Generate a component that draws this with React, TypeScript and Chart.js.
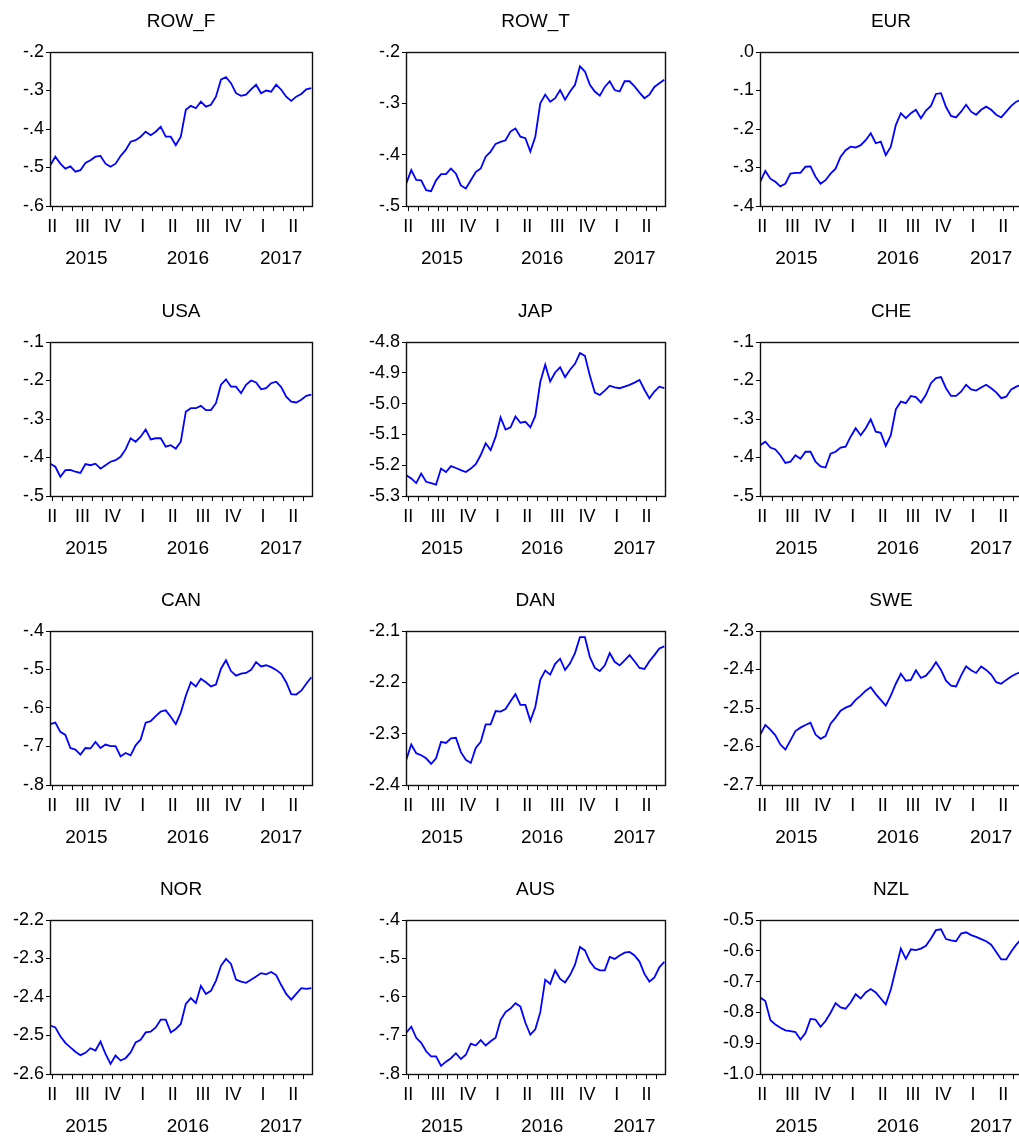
import React, { useEffect, useRef } from 'react';
import { Chart, registerables } from 'chart.js';

Chart.register(...registerables);

// ---- Time axis (months since 1 Jan 2015) ----
const MONTHS = [4.3, 4.8, 5.3, 5.8, 6.3, 6.8, 7.3, 7.8, 8.3, 8.8, 9.3, 9.8, 10.3, 10.8, 11.3, 11.8, 12.3, 12.8, 13.3, 13.8, 14.3, 14.8, 15.3, 15.8, 16.3, 16.8, 17.3, 17.8, 18.3, 18.8, 19.3, 19.8, 20.3, 20.8, 21.3, 21.8, 22.3, 22.8, 23.3, 23.8, 24.3, 24.8, 25.3, 25.8, 26.3, 26.8, 27.3, 27.8, 28.3, 28.8, 29.3, 29.8, 30.3];
const MONTH_TICKS = [4.5, 5.5, 6.5, 7.5, 8.5, 9.5, 10.5, 11.5, 12.5, 13.5, 14.5, 15.5, 16.5, 17.5, 18.5, 19.5, 20.5, 21.5, 22.5, 23.5, 24.5, 25.5, 26.5, 27.5, 28.5, 29.5];
const QUARTER_POS = [4.5, 7.5, 10.5, 13.5, 16.5, 19.5, 22.5, 25.5, 28.5];
const QUARTER_LABELS = ['II', 'III', 'IV', 'I', 'II', 'III', 'IV', 'I', 'II'];
const YEAR_POS = [7.9, 18.0, 27.3];
const YEAR_LABELS = ['2015', '2016', '2017'];
const X_MIN = 4.27;
const X_MAX = 30.37;

// ---- Series ----
const ROW_F = [-0.494, -0.472, -0.490, -0.503, -0.497, -0.511, -0.507, -0.488, -0.481, -0.472,
  -0.470, -0.490, -0.498, -0.490, -0.470, -0.455, -0.433, -0.429, -0.420, -0.407,
  -0.416, -0.407, -0.394, -0.420, -0.420, -0.442, -0.420, -0.350, -0.340, -0.346,
  -0.329, -0.342, -0.337, -0.316, -0.272, -0.265, -0.281, -0.307, -0.314, -0.311,
  -0.297, -0.285, -0.307, -0.300, -0.303, -0.285, -0.298, -0.316, -0.327, -0.316,
  -0.309, -0.297, -0.294];
const ROW_T = [-0.456, -0.430, -0.449, -0.450, -0.469, -0.471, -0.450, -0.438, -0.438, -0.427,
  -0.437, -0.460, -0.466, -0.450, -0.434, -0.427, -0.404, -0.394, -0.379, -0.375,
  -0.372, -0.355, -0.349, -0.365, -0.368, -0.394, -0.365, -0.300, -0.283, -0.297,
  -0.290, -0.274, -0.293, -0.277, -0.264, -0.228, -0.238, -0.264, -0.277, -0.285,
  -0.268, -0.257, -0.274, -0.277, -0.257, -0.257, -0.267, -0.279, -0.290, -0.283,
  -0.268, -0.261, -0.254];
const EUR = [-0.337, -0.309, -0.329, -0.337, -0.349, -0.342, -0.316, -0.314, -0.314, -0.298,
  -0.297, -0.324, -0.342, -0.333, -0.316, -0.303, -0.272, -0.255, -0.246, -0.248,
  -0.242, -0.229, -0.211, -0.237, -0.233, -0.268, -0.246, -0.190, -0.159, -0.172,
  -0.159, -0.150, -0.172, -0.152, -0.140, -0.109, -0.107, -0.143, -0.166, -0.170,
  -0.155, -0.137, -0.155, -0.163, -0.150, -0.142, -0.150, -0.163, -0.170, -0.155,
  -0.140, -0.129, -0.124];
const USA = [-0.416, -0.424, -0.450, -0.433, -0.432, -0.437, -0.440, -0.417, -0.420, -0.416,
  -0.429, -0.420, -0.411, -0.407, -0.398, -0.379, -0.350, -0.359, -0.346, -0.327,
  -0.353, -0.350, -0.350, -0.372, -0.368, -0.377, -0.359, -0.281, -0.272, -0.272,
  -0.266, -0.277, -0.277, -0.259, -0.211, -0.197, -0.216, -0.216, -0.233, -0.211,
  -0.200, -0.205, -0.223, -0.220, -0.207, -0.203, -0.217, -0.242, -0.255, -0.257,
  -0.250, -0.240, -0.237];
const JAP = [-5.233, -5.243, -5.258, -5.227, -5.254, -5.258, -5.263, -5.211, -5.222, -5.203,
  -5.209, -5.216, -5.222, -5.211, -5.197, -5.167, -5.129, -5.151, -5.108, -5.045,
  -5.084, -5.077, -5.042, -5.062, -5.059, -5.077, -5.040, -4.930, -4.874, -4.928,
  -4.899, -4.882, -4.914, -4.890, -4.871, -4.836, -4.845, -4.910, -4.964, -4.972,
  -4.958, -4.942, -4.947, -4.950, -4.945, -4.939, -4.932, -4.923, -4.955, -4.983,
  -4.961, -4.945, -4.950];
const CHE = [-0.368, -0.359, -0.374, -0.379, -0.394, -0.414, -0.411, -0.394, -0.403, -0.385,
  -0.385, -0.411, -0.423, -0.426, -0.390, -0.385, -0.374, -0.372, -0.346, -0.324,
  -0.342, -0.324, -0.301, -0.333, -0.336, -0.370, -0.342, -0.275, -0.255, -0.259,
  -0.240, -0.243, -0.257, -0.237, -0.207, -0.194, -0.191, -0.220, -0.240, -0.240,
  -0.229, -0.211, -0.223, -0.226, -0.218, -0.211, -0.220, -0.231, -0.246, -0.242,
  -0.223, -0.216, -0.211];
const CAN = [-0.642, -0.638, -0.662, -0.670, -0.704, -0.708, -0.721, -0.704, -0.705, -0.688,
  -0.704, -0.695, -0.699, -0.699, -0.726, -0.717, -0.723, -0.697, -0.682, -0.638,
  -0.634, -0.621, -0.609, -0.606, -0.623, -0.642, -0.612, -0.568, -0.533, -0.544,
  -0.524, -0.533, -0.544, -0.539, -0.498, -0.476, -0.504, -0.516, -0.511, -0.509,
  -0.501, -0.481, -0.492, -0.489, -0.494, -0.501, -0.511, -0.533, -0.564, -0.565,
  -0.555, -0.537, -0.520];
const DAN = [-2.351, -2.321, -2.338, -2.342, -2.348, -2.359, -2.348, -2.316, -2.318, -2.309,
  -2.308, -2.336, -2.351, -2.357, -2.328, -2.316, -2.282, -2.282, -2.256, -2.257,
  -2.252, -2.237, -2.223, -2.244, -2.244, -2.275, -2.248, -2.195, -2.177, -2.185,
  -2.164, -2.154, -2.176, -2.163, -2.143, -2.112, -2.112, -2.151, -2.172, -2.178,
  -2.167, -2.143, -2.160, -2.167, -2.157, -2.147, -2.159, -2.172, -2.174, -2.159,
  -2.147, -2.134, -2.130];
const SWE = [-2.569, -2.544, -2.556, -2.571, -2.595, -2.608, -2.584, -2.560, -2.551, -2.544,
  -2.538, -2.569, -2.580, -2.573, -2.541, -2.525, -2.507, -2.499, -2.494, -2.479,
  -2.468, -2.455, -2.446, -2.464, -2.479, -2.494, -2.468, -2.437, -2.411, -2.429,
  -2.427, -2.402, -2.422, -2.416, -2.401, -2.381, -2.401, -2.429, -2.442, -2.444,
  -2.416, -2.392, -2.402, -2.409, -2.392, -2.401, -2.413, -2.433, -2.437, -2.427,
  -2.418, -2.411, -2.407];
const NOR = [-2.474, -2.479, -2.502, -2.519, -2.531, -2.542, -2.551, -2.545, -2.533, -2.539,
  -2.516, -2.548, -2.574, -2.552, -2.565, -2.559, -2.544, -2.518, -2.511, -2.492,
  -2.490, -2.479, -2.459, -2.459, -2.492, -2.483, -2.470, -2.418, -2.403, -2.416,
  -2.371, -2.392, -2.384, -2.358, -2.319, -2.301, -2.314, -2.355, -2.360, -2.363,
  -2.355, -2.347, -2.338, -2.341, -2.335, -2.343, -2.369, -2.392, -2.407, -2.392,
  -2.377, -2.379, -2.377];
const AUS = [-0.693, -0.677, -0.706, -0.719, -0.741, -0.754, -0.754, -0.779, -0.768, -0.759,
  -0.746, -0.761, -0.750, -0.721, -0.726, -0.712, -0.726, -0.715, -0.706, -0.660,
  -0.639, -0.630, -0.616, -0.625, -0.667, -0.698, -0.684, -0.640, -0.555, -0.566,
  -0.531, -0.553, -0.562, -0.543, -0.516, -0.470, -0.479, -0.508, -0.525, -0.531,
  -0.531, -0.496, -0.501, -0.492, -0.485, -0.483, -0.492, -0.508, -0.540, -0.560,
  -0.549, -0.523, -0.509];
const NZL = [-0.752, -0.763, -0.825, -0.839, -0.850, -0.858, -0.861, -0.864, -0.888, -0.867,
  -0.821, -0.823, -0.847, -0.828, -0.801, -0.770, -0.784, -0.788, -0.768, -0.741,
  -0.755, -0.735, -0.724, -0.735, -0.755, -0.774, -0.726, -0.659, -0.593, -0.626,
  -0.595, -0.598, -0.593, -0.584, -0.560, -0.533, -0.530, -0.562, -0.566, -0.569,
  -0.544, -0.540, -0.549, -0.555, -0.562, -0.569, -0.580, -0.604, -0.628, -0.628,
  -0.602, -0.580, -0.562];

// ---- Y tick labels per panel ----
const TICKS_ROW_F = ['-.6', '-.5', '-.4', '-.3', '-.2'];
const TICKS_ROW_T = ['-.5', '-.4', '-.3', '-.2'];
const TICKS_EUR = ['-.4', '-.3', '-.2', '-.1', '.0'];
const TICKS_USA = ['-.5', '-.4', '-.3', '-.2', '-.1'];
const TICKS_JAP = ['-5.3', '-5.2', '-5.1', '-5.0', '-4.9', '-4.8'];
const TICKS_CHE = ['-.5', '-.4', '-.3', '-.2', '-.1'];
const TICKS_CAN = ['-.8', '-.7', '-.6', '-.5', '-.4'];
const TICKS_DAN = ['-2.4', '-2.3', '-2.2', '-2.1'];
const TICKS_SWE = ['-2.7', '-2.6', '-2.5', '-2.4', '-2.3'];
const TICKS_NOR = ['-2.6', '-2.5', '-2.4', '-2.3', '-2.2'];
const TICKS_AUS = ['-.8', '-.7', '-.6', '-.5', '-.4'];
const TICKS_NZL = ['-1.0', '-0.9', '-0.8', '-0.7', '-0.6', '-0.5'];

const TITLES = ['ROW_F', 'ROW_T', 'EUR', 'USA', 'JAP', 'CHE', 'CAN', 'DAN', 'SWE', 'NOR', 'AUS', 'NZL'];
const SERIES = [ROW_F, ROW_T, EUR, USA, JAP, CHE, CAN, DAN, SWE, NOR, AUS, NZL];
const TICKS = [TICKS_ROW_F, TICKS_ROW_T, TICKS_EUR, TICKS_USA, TICKS_JAP, TICKS_CHE, TICKS_CAN, TICKS_DAN, TICKS_SWE, TICKS_NOR, TICKS_AUS, TICKS_NZL];

// ---- Layout ----
const COL_LEFT = [50, 406, 760];
const COL_PLOT_W = [262, 259, 262];
const ROW_TOP = [52, 342, 631, 920];
const PLOT_H = 154;
const Y_AXIS_W = 50;
const RIGHT_PAD = 10;
const TITLE_H = 44;
const X_AXES_H = 64;
const FONT = "'Liberation Sans', Arial, Helvetica, sans-serif";
const TEXT = '#000000';

const framePlugin = {
  id: 'frame',
  afterDatasetsDraw(chart: any) {
    const { ctx, chartArea } = chart;
    const l = Math.round(chartArea.left) + 0.5;
    const t = Math.round(chartArea.top) + 0.5;
    const r = Math.round(chartArea.right) + 0.5;
    const b = Math.round(chartArea.bottom) + 0.5;
    ctx.save();
    ctx.strokeStyle = '#111';
    ctx.lineWidth = 1.4;
    ctx.strokeRect(l, t, r - l, b - t);
    ctx.restore();
  },
};

function Panel({ idx }: { idx: number }) {
  const ref = useRef<HTMLCanvasElement | null>(null);
  const col = idx % 3;
  const row = Math.floor(idx / 3);
  const plotLeft = COL_LEFT[col];
  const plotW = COL_PLOT_W[col];
  const plotTop = ROW_TOP[row];
  const width = Y_AXIS_W + plotW + RIGHT_PAD;
  const height = TITLE_H + PLOT_H + X_AXES_H;

  useEffect(() => {
    const labels = TICKS[idx];
    const vals = labels.map((s) => Number(s));
    const values = SERIES[idx];
    const chart = new Chart(ref.current as HTMLCanvasElement, {
      type: 'line',
      data: {
        datasets: [
          {
            data: MONTHS.map((m, i) => ({ x: m, y: values[i] })),
            borderColor: '#0000ff',
            borderWidth: 1.8,
            pointRadius: 0,
            tension: 0,
            fill: false,
          },
        ],
      },
      options: {
        animation: false,
        responsive: false,
        devicePixelRatio: 1,
        layout: { padding: { left: 0, right: RIGHT_PAD, top: 0, bottom: 0 } },
        plugins: {
          legend: { display: false },
          tooltip: { enabled: false },
          title: {
            display: true,
            fullSize: false,
            text: TITLES[idx],
            color: TEXT,
            font: { size: 19, family: FONT, weight: 'normal' },
            padding: { top: 2.5, bottom: TITLE_H - 2.5 - 22.8 },
          },
        },
        scales: {
          x: {
            type: 'linear',
            position: 'bottom',
            weight: 0,
            min: X_MIN,
            max: X_MAX,
            afterBuildTicks: (s: any) => {
              s.ticks = MONTH_TICKS.map((v) => ({ value: v }));
            },
            afterFit: (s: any) => {
              s.height = 5;
            },
            grid: { display: true, drawOnChartArea: false, drawTicks: true, tickLength: 5, color: '#000', lineWidth: 1 },
            border: { display: false },
            ticks: { display: false, autoSkip: false },
          },
          xq: {
            type: 'linear',
            position: 'bottom',
            weight: 1,
            min: X_MIN,
            max: X_MAX,
            afterBuildTicks: (s: any) => {
              s.ticks = QUARTER_POS.map((v) => ({ value: v }));
            },
            afterFit: (s: any) => {
              s.height = 27;
            },
            grid: { display: false, drawTicks: false },
            border: { display: false },
            ticks: {
              autoSkip: false,
              maxRotation: 0,
              minRotation: 0,
              padding: 5.5,
              color: TEXT,
              font: { size: 18, family: FONT },
              callback: (_v: any, i: number) => QUARTER_LABELS[i],
            },
          },
          xy: {
            type: 'linear',
            position: 'bottom',
            weight: 2,
            min: X_MIN,
            max: X_MAX,
            afterBuildTicks: (s: any) => {
              s.ticks = YEAR_POS.map((v) => ({ value: v }));
            },
            afterFit: (s: any) => {
              s.height = 32;
            },
            grid: { display: false, drawTicks: false },
            border: { display: false },
            ticks: {
              autoSkip: false,
              maxRotation: 0,
              minRotation: 0,
              padding: 9,
              color: TEXT,
              font: { size: 19, family: FONT },
              callback: (_v: any, i: number) => YEAR_LABELS[i],
            },
          },
          y: {
            type: 'linear',
            position: 'left',
            min: vals[0],
            max: vals[vals.length - 1],
            afterBuildTicks: (s: any) => {
              s.ticks = vals.map((v) => ({ value: v }));
            },
            afterFit: (s: any) => {
              s.width = Y_AXIS_W;
            },
            grid: { display: true, drawOnChartArea: false, drawTicks: true, tickLength: 4, color: '#000', lineWidth: 1 },
            border: { display: false },
            ticks: {
              autoSkip: false,
              padding: 2,
              color: TEXT,
              font: { size: 18, family: FONT },
              callback: (_v: any, i: number) => labels[i],
            },
          },
        },
      },
      plugins: [framePlugin],
    } as any);
    return () => chart.destroy();
  }, []);

  return (
    <canvas
      ref={ref}
      width={width}
      height={height}
      style={{ position: 'absolute', left: plotLeft - Y_AXIS_W, top: plotTop - TITLE_H, width, height }}
    />
  );
}

export default function App() {
  return (
    <div
      style={{
        position: 'absolute',
        left: 0,
        top: 0,
        width: 1019,
        height: 1136,
        overflow: 'hidden',
        background: '#ffffff',
      }}
    >
      {TITLES.map((_, i) => (
        <Panel key={i} idx={i} />
      ))}
    </div>
  );
}
